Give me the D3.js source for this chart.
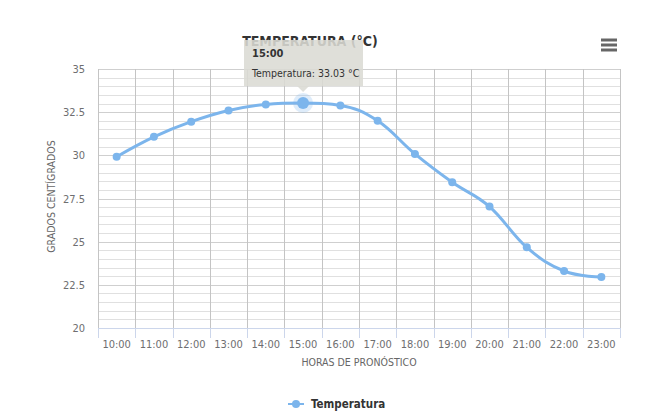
<!DOCTYPE html>
<html><head><meta charset="utf-8">
<script src="https://cdn.jsdelivr.net/npm/d3@7"></script>
<style>
html,body{margin:0;padding:0;background:#fff;}
svg{display:block;font-family:"DejaVu Sans Condensed","Liberation Sans Narrow",sans-serif;}
</style></head>
<body>
<svg id="chart" width="662" height="414"></svg>
<script>
const categories = ["10:00","11:00","12:00","13:00","14:00","15:00","16:00","17:00","18:00","19:00","20:00","21:00","22:00","23:00"];
const temperatura = [29.92,31.07,31.95,32.6,32.95,33.03,32.89,32.0,30.08,28.44,27.03,24.67,23.3,22.96];
const yTicks = [20,22.5,25,27.5,30,32.5,35];
const seriesName = "Temperatura";
const title = "TEMPERATURA (°C)";
const xTitle = "HORAS DE PRONÓSTICO";
const yTitle = "GRADOS CENTÍGRADOS";
const hoverIndex = 5;

const svg = d3.select("#chart");
const L = 98, R = 620, T = 69, B = 328;
const color = "#7cb5ec";

const x = d3.scaleBand().domain(categories).range([L, R]).paddingInner(0).paddingOuter(0);
const y = d3.scaleLinear().domain([20, 35]).range([B, T]);
const cx = d => x(d) + x.bandwidth() / 2;

// minor grid
const minor = d3.range(20, 35.01, 0.5).filter(v => Math.abs(v / 2.5 - Math.round(v / 2.5)) > 1e-6);
svg.append("g").selectAll("line").data(minor).join("line")
  .attr("x1", L).attr("x2", R)
  .attr("y1", d => Math.round(y(d)) + 0.5).attr("y2", d => Math.round(y(d)) + 0.5)
  .attr("stroke", "#e0e0e0").attr("stroke-width", 1);
// major grid
svg.append("g").selectAll("line").data(yTicks.filter(v => v > 20)).join("line")
  .attr("x1", L).attr("x2", R)
  .attr("y1", d => Math.round(y(d)) + 0.5).attr("y2", d => Math.round(y(d)) + 0.5)
  .attr("stroke", "#cfcfcf").attr("stroke-width", 1);
// vertical grid at category boundaries
const bounds = categories.map(c => x(c)).concat([R]);
svg.append("g").selectAll("line").data(bounds).join("line")
  .attr("x1", d => Math.round(d) + 0.5).attr("x2", d => Math.round(d) + 0.5)
  .attr("y1", T).attr("y2", B)
  .attr("stroke", "#c4c4c4").attr("stroke-width", 1);

// x axis line and ticks
svg.append("line").attr("x1", L).attr("x2", R).attr("y1", B + 0.5).attr("y2", B + 0.5).attr("stroke", "#ccd6eb");
svg.append("g").selectAll("line").data(bounds).join("line")
  .attr("x1", d => Math.round(d) + 0.5).attr("x2", d => Math.round(d) + 0.5)
  .attr("y1", B).attr("y2", B + 10).attr("stroke", "#ccd6eb");
svg.append("g").selectAll("text").data(categories).join("text")
  .attr("x", d => cx(d)).attr("y", 348).attr("text-anchor", "middle")
  .attr("font-size", 11).attr("fill", "#6e6e70").text(d => d);
svg.append("text").attr("x", (L + R) / 2).attr("y", 366).attr("text-anchor", "middle")
  .attr("font-size", 10.5).attr("fill", "#666").text(xTitle);

// y labels
svg.append("g").selectAll("text").data(yTicks).join("text")
  .attr("x", 85).attr("y", d => y(d) + 4).attr("text-anchor", "end")
  .attr("font-size", 11).attr("fill", "#6e6e70").text(d => d);
svg.append("text").attr("transform", `translate(55,${(T + B) / 2 - 2}) rotate(-90)`)
  .attr("text-anchor", "middle").attr("font-size", 10.5).attr("fill", "#666").text(yTitle);

// Highcharts-style spline path
const pts = categories.map((c, i) => ({ px: cx(c), py: y(temperatura[i]) }));
function splinePath(points) {
  const sm = 1.5, den = sm + 1;
  const p = d3.path();
  let prevRight = null;
  points.forEach((pt, i) => {
    if (i === 0) { p.moveTo(pt.px, pt.py); prevRight = null; }
    let lcx = pt.px, lcy = pt.py, rc = null;
    const last = points[i - 1], next = points[i + 1];
    if (last && next) {
      lcx = (sm * pt.px + last.px) / den; lcy = (sm * pt.py + last.py) / den;
      let rcx = (sm * pt.px + next.px) / den, rcy = (sm * pt.py + next.py) / den;
      const corr = ((rcy - lcy) * (rcx - pt.px)) / (rcx - lcx) + pt.py - rcy;
      lcy += corr; rcy += corr;
      if (lcy > last.py && lcy > pt.py) { lcy = Math.max(last.py, pt.py); rcy = 2 * pt.py - lcy; }
      else if (lcy < last.py && lcy < pt.py) { lcy = Math.min(last.py, pt.py); rcy = 2 * pt.py - lcy; }
      if (rcy > next.py && rcy > pt.py) { rcy = Math.max(next.py, pt.py); lcy = 2 * pt.py - rcy; }
      else if (rcy < next.py && rcy < pt.py) { rcy = Math.min(next.py, pt.py); lcy = 2 * pt.py - rcy; }
      rc = [rcx, rcy];
    }
    if (i > 0) {
      const c1 = prevRight || [last.px, last.py];
      p.bezierCurveTo(c1[0], c1[1], lcx, lcy, pt.px, pt.py);
    }
    prevRight = rc;
  });
  return p.toString();
}
svg.append("path").attr("d", splinePath(pts)).attr("fill", "none")
  .attr("stroke", color).attr("stroke-width", 3).attr("stroke-linejoin", "round").attr("stroke-linecap", "round");

svg.append("g").selectAll("circle").data(pts).join("circle")
  .attr("cx", d => d.px).attr("cy", d => d.py).attr("r", 4).attr("fill", color);

// hover state
const hp = pts[hoverIndex];
svg.append("circle").attr("cx", hp.px).attr("cy", hp.py).attr("r", 10).attr("fill", color).attr("opacity", 0.25);
svg.append("circle").attr("cx", hp.px).attr("cy", hp.py).attr("r", 6).attr("fill", color);

// title
svg.append("text").attr("x", 310).attr("y", 46).attr("text-anchor", "middle")
  .attr("font-size", 14).attr("font-weight", "bold").attr("fill", "#333").text(title);

// tooltip
const tx = 244, ty = 40, tw = 119, th = 46;
const tip = svg.append("g");
tip.append("path")
  .attr("d", `M${tx},${ty}H${tx + tw}V${ty + th}H${hp.px + 6}L${hp.px},${ty + th + 6}L${hp.px - 6},${ty + th}H${tx}Z`)
  .attr("fill", "rgba(219,219,212,0.88)");
tip.append("text").attr("x", tx + 8).attr("y", ty + 17).attr("font-size", 11).attr("font-weight", "bold")
  .attr("fill", "#333").text(categories[hoverIndex]);
tip.append("text").attr("x", tx + 8).attr("y", ty + 37).attr("font-size", 10.5)
  .attr("fill", "#333").text(`${seriesName}: ${temperatura[hoverIndex].toFixed(2)} °C`);

// menu icon
svg.append("g").selectAll("line").data([40, 45, 50]).join("line")
  .attr("x1", 601).attr("x2", 617).attr("y1", d => d).attr("y2", d => d)
  .attr("stroke", "#666").attr("stroke-width", 3);

// legend
const lg = svg.append("g");
lg.append("line").attr("x1", 288).attr("x2", 304).attr("y1", 404).attr("y2", 404).attr("stroke", color).attr("stroke-width", 2);
lg.append("circle").attr("cx", 296).attr("cy", 404).attr("r", 4).attr("fill", color);
lg.append("text").attr("x", 311).attr("y", 408).attr("font-size", 11.5).attr("font-weight", "bold")
  .attr("fill", "#333").text(seriesName);
</script>
</body></html>
